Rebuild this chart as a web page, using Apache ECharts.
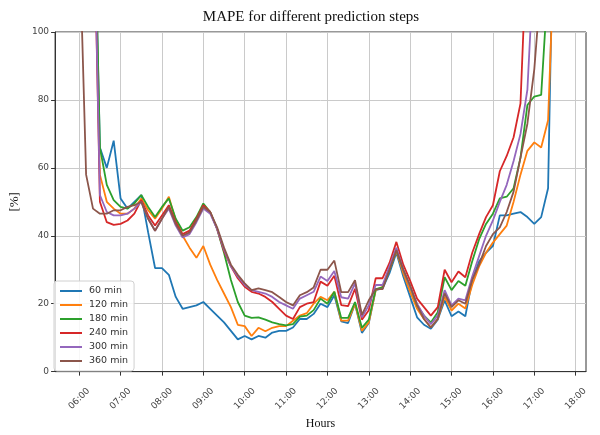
<!DOCTYPE html>
<html><head><meta charset="utf-8">
<script src="https://cdn.jsdelivr.net/npm/echarts@6/dist/echarts.min.js"></script>
<style>html,body{margin:0;padding:0;background:#fff}#c{width:600px;height:435px}</style>
</head><body><div id="c"></div>
<script>
// time points every 10 minutes from 06:00 to 17:40
const times = ["06:00","06:10","06:20","06:30","06:40","06:50","07:00","07:10","07:20","07:30","07:40","07:50",
"08:00","08:10","08:20","08:30","08:40","08:50","09:00","09:10","09:20","09:30","09:40","09:50",
"10:00","10:10","10:20","10:30","10:40","10:50","11:00","11:10","11:20","11:30","11:40","11:50",
"12:00","12:10","12:20","12:30","12:40","12:50","13:00","13:10","13:20","13:30","13:40","13:50",
"14:00","14:10","14:20","14:30","14:40","14:50","15:00","15:10","15:20","15:30","15:40","15:50",
"16:00","16:10","16:20","16:30","16:40","16:50","17:00","17:10","17:20","17:30","17:40"];
const tickLabels = ["06:00","07:00","08:00","09:00","10:00","11:00","12:00","13:00","14:00","15:00","16:00","17:00","18:00"];
const seriesNames = ["60 min","120 min","180 min","240 min","300 min","360 min"];
const mape60 = [240,210,155,66,60,68,51,48,50,52,
41,30.5,30.5,28.5,22,18.5,19,19.5,20.5,18.5,
16.5,14.5,12,9.5,10.5,9.5,10.5,10,11.5,12,
12,13,15.5,15.5,17,20,19,22.5,14.8,14.3,
20,11.4,14.3,24,24.5,29,35,28,22,16,
13.8,12.6,15.3,21,16.3,17.7,16.3,27,32.5,35,
37,46,46,46.5,47,45.5,43.5,45.5,54,160,230];
const mape120 = [240,210,155,58,50,48,46.5,46.5,48,51,
47.5,45,48,51.5,44.5,40,36.5,33.5,37,31.5,
27,23,19,13.8,13.4,10.5,12.9,11.9,12.9,13.4,
13.4,15,16.5,17.2,20,22,21,23.5,15,15,
20,12,14.5,24,25,30,35.5,29,23.5,18.5,
15.5,13,15.5,22,18,20,18.6,25.5,31,35,
38,40.5,43,50,58,65,67.5,66,74,130,200];
const mape180 = [250,220,160,66,55,50.5,48.5,48,49.5,52,
48.5,45.5,48.5,51,45,41.5,42.5,45.5,49.5,47,
42,35,27,20.5,16.5,15.8,16,15.3,14.5,14,
13.6,14,16.2,16.5,18.1,21.5,20,23.5,15.8,15.8,
20.5,12.9,15.3,24.3,24.8,30,35.8,30,25,19.5,
16.5,14.5,17.5,27.8,24,26.7,25.3,32.5,39,43.5,
46.5,51,51.5,54,63,78.5,81,81.5,115,170,230];
const mape240 = [230,200,150,50,44,43.2,43.5,44.5,46.5,50.5,
46,43,46,49,44,40.5,41.5,45,49,47,
42,35.5,31,27.5,25,23.5,23,22,20.5,18.5,
16.5,15.5,19,20,20.5,26.5,25.3,28.2,19.6,19.3,
24.4,15.3,18.1,27.5,27.5,32,38.2,31.5,26.7,21.5,
19,16.5,19,30,26.3,29.5,27.8,35,40.5,45.5,
49,59,63.5,69,79,130,200,260,320,380,440];
const mape300 = [230,200,150,52,47,46,46,46.5,48,50,
45,41.5,45,48,43,39.5,40.5,44,48,46.5,
42,36,31,28,25.5,24,23.5,23,22,20.5,
19.5,18.5,21.5,22.5,23.5,28,26.7,29.6,21.9,21.5,
26,16,19.5,25.5,25.5,31,36.5,30,25,20,
16.5,14,16.5,24,19.5,21.5,21,28,34,40,
44.5,50,55,62,70,83,123,170,220,270,320];
const mape360 = [130,58,48,46.5,46.5,47.5,47.5,48.5,49,50,
45,41.5,45,48.5,43.5,40,41,44.5,48.5,47,
42.5,36.5,31.5,28.5,26,24,24.5,24,23.4,22,
20.5,19.5,22.5,23.4,24.8,30,30,32.7,23.4,23.4,
26.9,16.7,21,24.3,24.3,30,35.8,30,25.3,19.6,
15.5,13,15.5,23,19,21,20,27,31.5,37,
40.5,42.5,47,53,63,73,89,115,160,210,260];
const colors = ["#1f77b4","#ff7f0e","#2ca02c","#d62728","#9467bd","#8c564b"];

const toHour = s => { const p = s.split(":"); return +p[0] + (+p[1]) / 60; };
const xs = times.map(toHour);
const tickVals = tickLabels.map(toHour);
const allSeries = [mape60, mape120, mape180, mape240, mape300, mape360];
const xMin = xs[0] - 0.05 * (xs[xs.length - 1] - xs[0]);
const xMax = xs[xs.length - 1] + 0.05 * (xs[xs.length - 1] - xs[0]);

const chart = echarts.init(document.getElementById('c'), null, {renderer: 'canvas'});
chart.setOption({
  animation: false,
  color: colors,
  title: {
    text: 'MAPE for different prediction steps',
    left: 306, top: 5, textAlign: 'center',
    textStyle: {fontFamily: 'Liberation Serif', fontSize: 15, fontWeight: 'normal', color: '#111'}
  },
  grid: {left: 50, right: 14, top: 32, bottom: 55, show: true, borderColor: '#333', borderWidth: 1, containLabel: false},
  legend: {
    orient: 'vertical', left: 54, top: 281,
    icon: 'rect', itemWidth: 22, itemHeight: 2, itemGap: 4,
    backgroundColor: 'rgba(255,255,255,0.85)', borderColor: '#d0d0d0', borderWidth: 1, borderRadius: 3,
    padding: [5, 6, 5, 6],
    textStyle: {fontFamily: 'DejaVu Sans', fontSize: 9.5, color: '#333', padding: [0, 0, 0, 2]},
    data: seriesNames
  },
  xAxis: {
    type: 'value', min: xMin, max: xMax,
    name: 'Hours', nameLocation: 'middle', nameGap: 45,
    nameTextStyle: {fontFamily: 'Liberation Serif', fontSize: 12, color: '#111'},
    axisLine: {show: true, lineStyle: {color: '#333'}},
    axisTick: {show: true, length: 4, customValues: tickVals, lineStyle: {color: '#333'}},
    axisLabel: {
      customValues: tickVals, rotate: 45, align: 'center', verticalAlign: 'middle', margin: 27,
      fontFamily: 'DejaVu Sans', fontSize: 9, color: '#444',
      formatter: v => { const h = Math.round(v); return (h < 10 ? '0' : '') + h + ':00'; }
    },
    splitLine: {show: true, lineStyle: {color: '#cacaca', width: 1}}
  },
  yAxis: {
    type: 'value', min: 0, max: 100, interval: 20,
    name: '[%]', nameLocation: 'middle', nameGap: 32, nameRotate: 90,
    nameTextStyle: {fontFamily: 'Liberation Serif', fontSize: 13, color: '#111'},
    axisLine: {show: true, lineStyle: {color: '#333'}},
    axisTick: {show: true, length: 4, lineStyle: {color: '#333'}},
    axisLabel: {fontFamily: 'DejaVu Sans', fontSize: 9, color: '#444', margin: 6},
    splitLine: {show: true, lineStyle: {color: '#cacaca', width: 1}}
  },
  series: allSeries.map((arr, k) => ({
    name: seriesNames[k], type: 'line', symbol: 'none', clip: true,
    lineStyle: {width: 1.8, color: colors[k]},
    itemStyle: {color: colors[k]},
    data: arr.map((v, i) => [xs[i], v])
  }))
});
</script></body></html>
